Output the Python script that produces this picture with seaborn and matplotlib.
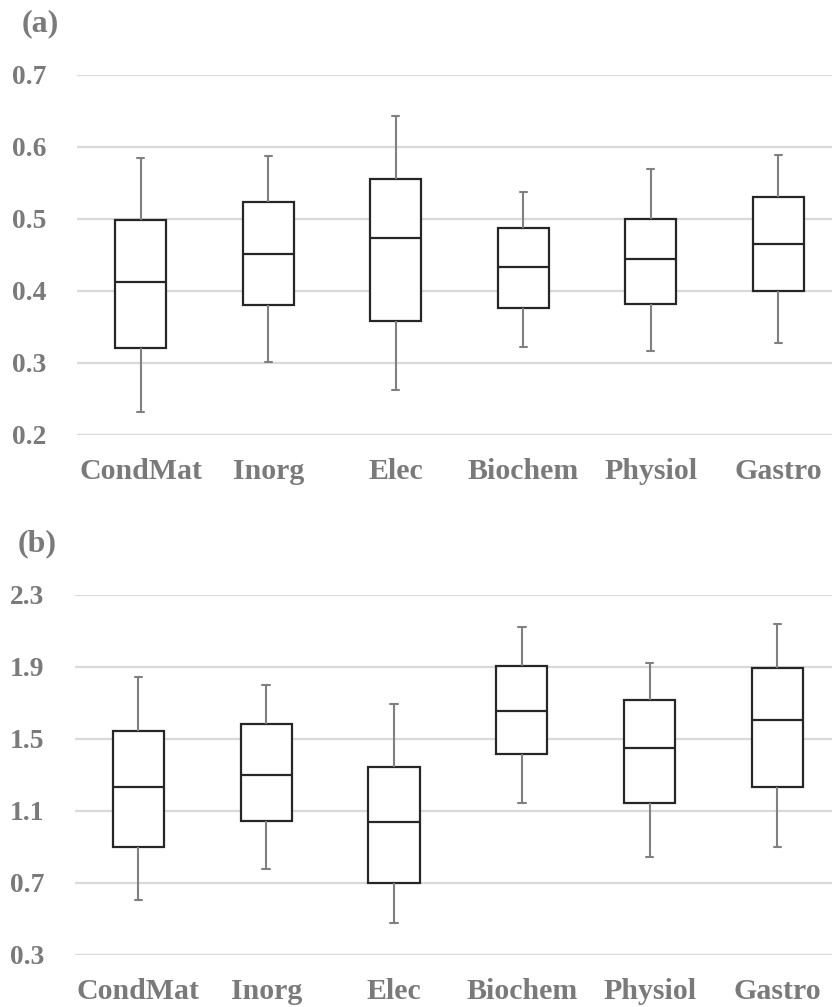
import numpy as np
import pandas as pd
import matplotlib
matplotlib.use("Agg")
import matplotlib.pyplot as plt
import seaborn as sns

# Field categories shared by both panels
categories = ["CondMat", "Inorg", "Elec", "Biochem", "Physiol", "Gastro"]

# Panel (a): five-number summaries per field
a_whisker_low = [0.232, 0.302, 0.262, 0.322, 0.317, 0.328]
a_q1 = [0.321, 0.380, 0.358, 0.376, 0.382, 0.400]
a_median = [0.412, 0.452, 0.473, 0.434, 0.444, 0.465]
a_q3 = [0.499, 0.523, 0.555, 0.488, 0.500, 0.531]
a_whisker_high = [0.585, 0.588, 0.643, 0.537, 0.569, 0.589]
a_ticks = [0.2, 0.3, 0.4, 0.5, 0.6, 0.7]

# Panel (b): five-number summaries per field
b_whisker_low = [0.604, 0.778, 0.476, 1.146, 0.844, 0.902]
b_q1 = [0.902, 1.043, 0.698, 1.415, 1.146, 1.232]
b_median = [1.233, 1.302, 1.041, 1.656, 1.450, 1.604]
b_q3 = [1.546, 1.582, 1.343, 1.906, 1.715, 1.893]
b_whisker_high = [1.844, 1.802, 1.693, 2.124, 1.920, 2.139]
b_ticks = [0.3, 0.7, 1.1, 1.5, 1.9, 2.3]

TEXT = "#7a7a7a"
GRID = "#d9d9d9"
EDGE = "#262626"
WHISK = "#808080"


def summary_frame(lo, q1, med, q3, hi):
    # Five sorted points per field reproduce the quartiles exactly
    rows = []
    for i, cat in enumerate(categories):
        for v in (lo[i], q1[i], med[i], q3[i], hi[i]):
            rows.append((cat, v))
    return pd.DataFrame(rows, columns=["field", "value"])


sns.set_style("white")
plt.rcParams["font.family"] = ["Liberation Serif", "DejaVu Serif"]
plt.rcParams["font.weight"] = "bold"

fig = plt.figure(figsize=(8.32, 10.07), dpi=100)
W, H = 832.0, 1007.0

panels = [
    dict(df=summary_frame(a_whisker_low, a_q1, a_median, a_q3, a_whisker_high),
         ticks=a_ticks, left=77, top=75, bottom=435, step=127.5, tag="(a)",
         tag_xy=(22, 24)),
    dict(df=summary_frame(b_whisker_low, b_q1, b_median, b_q3, b_whisker_high),
         ticks=b_ticks, left=74.5, top=595, bottom=955, step=127.8, tag="(b)",
         tag_xy=(18, 544)),
]

for p in panels:
    ax = fig.add_axes([p["left"] / W, 1 - p["bottom"] / H,
                       (W - p["left"]) / W, (p["bottom"] - p["top"]) / H])
    sns.boxplot(
        data=p["df"], x="field", y="value", order=categories, ax=ax,
        whis=(0, 100), width=0.4, color="white", linecolor=EDGE,
        linewidth=1.6, fliersize=0, capwidths=0.058,
        boxprops=dict(facecolor="white", edgecolor=EDGE, linewidth=1.6),
        medianprops=dict(color=EDGE, linewidth=1.6),
        whiskerprops=dict(color=WHISK, linewidth=1.5),
        capprops=dict(color=WHISK, linewidth=1.5),
    )
    ax.set_ylim(p["ticks"][0], p["ticks"][-1])
    ax.set_xlim(-0.5, -0.5 + (W - p["left"]) / p["step"])
    ax.set_yticks(p["ticks"])
    ax.set_yticklabels([f"{t:.1f}" for t in p["ticks"]])
    ax.yaxis.grid(True, color=GRID, linewidth=1.6)
    ax.xaxis.grid(False)
    ax.set_axisbelow(True)
    for s in ax.spines.values():
        s.set_visible(False)
    ax.set_xlabel("")
    ax.set_ylabel("")
    ax.tick_params(axis="y", length=0, pad=22, labelsize=19.8, labelcolor=TEXT)
    ax.tick_params(axis="x", length=0, pad=16.5, labelsize=21.5, labelcolor=TEXT)
    for lab in ax.get_xticklabels() + ax.get_yticklabels():
        lab.set_fontweight("bold")
    fig.text(p["tag_xy"][0] / W, 1 - p["tag_xy"][1] / H, p["tag"],
             ha="left", va="center", fontsize=23, fontweight="bold", color=TEXT)

fig.savefig("out.png", dpi=100)
